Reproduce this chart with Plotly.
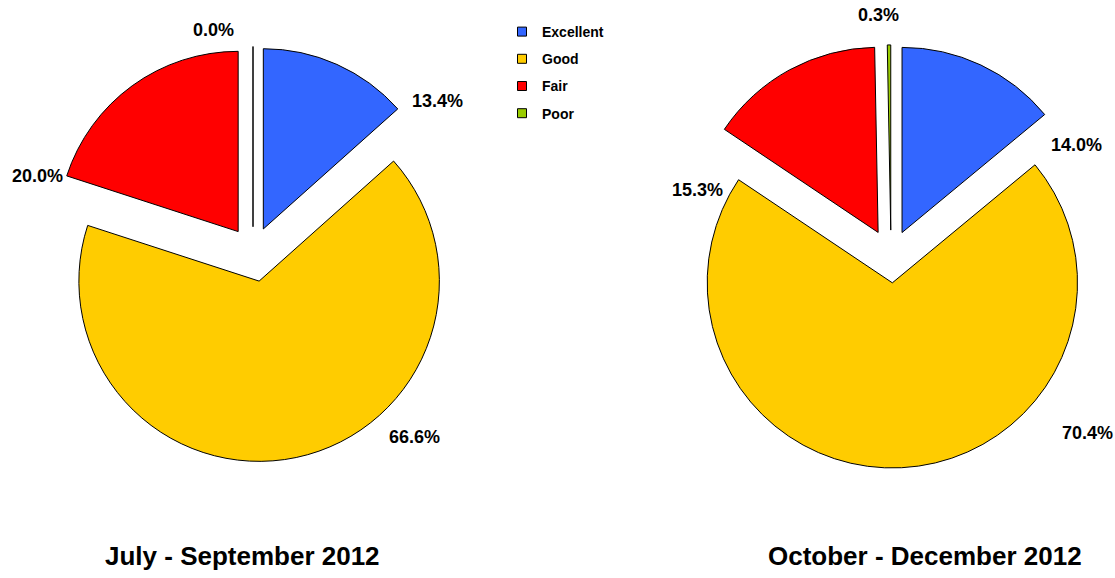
import plotly.graph_objects as go

# ---- data ----
categories = ["Excellent", "Good", "Fair", "Poor"]
q3_values = [13.4, 66.6, 20.0, 0.0]
q4_values = [14.0, 70.4, 15.3, 0.3]
period_titles = ["July - September 2012", "October - December 2012"]
colors = ["#3366FF", "#FFCC00", "#FF0000", "#99CC00"]

W, H = 1115, 578


def px(x):
    return x / W


def py(y):
    return 1 - y / H


fig = go.Figure()

# pies
pie_specs = [
    dict(values=q3_values, pull=[0.14, 0.165, 0.14, 0.14],
         dx=[43, 463], dy=[42, 462]),
    dict(values=q4_values, pull=[0.14, 0.145, 0.145, 0.14],
         dx=[679, 1103], dy=[44, 468]),
]
for spec in pie_specs:
    fig.add_trace(go.Pie(
        labels=categories,
        values=spec["values"],
        sort=False,
        direction="clockwise",
        rotation=0,
        pull=spec["pull"],
        textinfo="none",
        hoverinfo="label+percent",
        showlegend=False,
        marker=dict(colors=colors, line=dict(color="black", width=1)),
        domain=dict(x=[px(spec["dx"][0]), px(spec["dx"][1])],
                    y=[py(spec["dy"][1]), py(spec["dy"][0])]),
    ))

# legend entries
for i, (cat, col) in enumerate(zip(categories, colors)):
    fig.add_trace(go.Scatter(
        x=[None], y=[None], mode="markers", name=cat,
        legendgroup=f"g{i}",
        marker=dict(symbol="square", size=9, color=col,
                    line=dict(color="black", width=1)),
        showlegend=True,
    ))

# percentage labels (positions are layout styling)
label_pos = [
    [(437, 101), (414, 437), (37, 176), (213, 30)],
    [(1076, 145), (1087, 433), (697, 190), (878, 15)],
]
annotations = []
for vals, poss in zip([q3_values, q4_values], label_pos):
    for v, (x, y) in zip(vals, poss):
        annotations.append(dict(
            x=px(x), y=py(y), xref="paper", yref="paper",
            text=f"{v:.1f}%", showarrow=False,
            xanchor="center", yanchor="middle",
            font=dict(family="Liberation Sans, Arial, sans-serif",
                      size=18, color="black", weight="bold"),
        ))

title_pos = [(242, 556), (925, 556)]
for t, (x, y) in zip(period_titles, title_pos):
    annotations.append(dict(
        x=px(x), y=py(y), xref="paper", yref="paper",
        text=t, showarrow=False, xanchor="center", yanchor="middle",
        font=dict(family="Liberation Sans, Arial, sans-serif",
                  size=26, color="black", weight="bold"),
    ))

fig.update_layout(
    width=W, height=H,
    margin=dict(l=0, r=0, t=0, b=0),
    paper_bgcolor="white", plot_bgcolor="white",
    xaxis=dict(visible=False), yaxis=dict(visible=False),
    annotations=annotations,
    legend=dict(
        x=px(502), y=py(16), xanchor="left", yanchor="top",
        bgcolor="rgba(0,0,0,0)", borderwidth=0,
        tracegroupgap=6,
        font=dict(family="Liberation Sans, Arial, sans-serif",
                  size=14, color="black", weight="bold"),
    ),
)

fig.write_html("out.html", config={"displayModeBar": False},
               post_script="document.body.style.margin='0px';")
